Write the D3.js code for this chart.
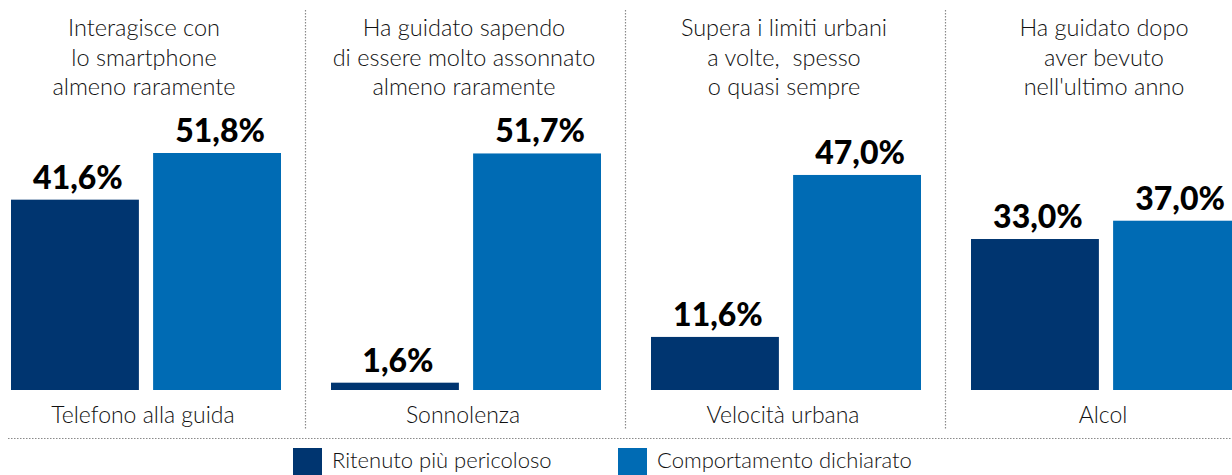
<!DOCTYPE html>
<html lang="it">
<head>
<meta charset="utf-8">
<script src="https://cdn.jsdelivr.net/npm/d3@7"></script>
<style>
  html, body { margin: 0; padding: 0; background: #fff; }
  svg { display: block; }
  .title, .cat, .legend-label { font-family: Lato, "Open Sans", sans-serif; font-weight: 300; fill: #111; white-space: pre; }
  .value { font-family: Lato, "Open Sans", sans-serif; font-weight: 900; fill: #000; }
</style>
</head>
<body>
<svg id="chart" width="1232" height="475"></svg>
<script>
// Four driving behaviours, each compared across two measures
const categories = ["Telefono alla guida", "Sonnolenza", "Velocità urbana", "Alcol"];
const titles = [
  ["Interagisce con", "lo smartphone", "almeno raramente"],
  ["Ha guidato sapendo", "di essere molto assonnato", "almeno raramente"],
  ["Supera i limiti urbani", "a volte,  spesso", "o quasi sempre"],
  ["Ha guidato dopo", "aver bevuto", "nell'ultimo anno"]
];
const seriesNames = ["Ritenuto più pericoloso", "Comportamento dichiarato"];
const ritenuto = [41.6, 1.6, 11.6, 33.0];
const dichiarato = [51.8, 51.7, 47.0, 37.0];
const colors = ["#003570", "#006bb4"];

const svg = d3.select("#chart");
const W = 1232, H = 475;
const baseline = 390;

const rows = categories.map((c, i) => ({
  cat: c, title: titles[i],
  values: [
    { s: seriesNames[0], v: ritenuto[i] },
    { s: seriesNames[1], v: dichiarato[i] }
  ]
}));

// one 320px column per behaviour
const xPanel = d3.scaleBand().domain(categories).range([0, 1280]);
const xInner = d3.scaleBand().domain(seriesNames).range([11, 281]).paddingInner(0.1);
const color = d3.scaleOrdinal().domain(seriesNames).range(colors);
const y = d3.scaleLinear().domain([0, 51.8]).range([baseline, 153]);

const fmt = v => d3.format(".1f")(v).replace(".", ",") + "%";
const center = (xInner.range()[0] + xInner.range()[1]) / 2;

// dotted separators between the columns
svg.selectAll("line.sep")
  .data(categories.slice(1))
  .join("line")
  .attr("class", "sep")
  .attr("x1", d => xPanel(d) - 14.5).attr("x2", d => xPanel(d) - 14.5)
  .attr("y1", 10).attr("y2", 430)
  .attr("stroke", "#8a8a8a").attr("stroke-width", 1.2)
  .attr("stroke-dasharray", "1.5,1.5");

svg.append("line")
  .attr("x1", 8).attr("x2", W)
  .attr("y1", 438.5).attr("y2", 438.5)
  .attr("stroke", "#8a8a8a").attr("stroke-width", 1.2)
  .attr("stroke-dasharray", "1.5,1.5");

const panel = svg.selectAll("g.panel")
  .data(rows)
  .join("g")
  .attr("class", "panel")
  .attr("transform", d => `translate(${xPanel(d.cat)},0)`);

panel.append("text")
  .attr("class", "title")
  .attr("text-anchor", "middle")
  .attr("font-size", 23.5)
  .selectAll("tspan")
  .data(d => d.title)
  .join("tspan")
  .attr("x", center - 2)
  .attr("y", (d, i) => 36 + i * 29.5)
  .text(d => d);

panel.selectAll("rect")
  .data(d => d.values)
  .join("rect")
  .attr("x", d => xInner(d.s))
  .attr("width", xInner.bandwidth())
  .attr("y", d => y(d.v))
  .attr("height", d => baseline - y(d.v))
  .attr("fill", d => color(d.s));

panel.selectAll("text.value")
  .data(d => d.values)
  .join("text")
  .attr("class", "value")
  .attr("text-anchor", "middle")
  .attr("font-size", 32)
  .attr("x", d => xInner(d.s) + xInner.bandwidth() / 2 + 3)
  .attr("y", d => y(d.v) - 11)
  .text(d => fmt(d.v));

panel.append("text")
  .attr("class", "cat")
  .attr("text-anchor", "middle")
  .attr("font-size", 23)
  .attr("x", center - 3)
  .attr("y", 423)
  .text(d => d.cat);

// legend
const legendX = [293, 618];
const legend = svg.selectAll("g.legend")
  .data(seriesNames)
  .join("g")
  .attr("class", "legend")
  .attr("transform", (d, i) => `translate(${legendX[i]},448)`);

legend.append("rect")
  .attr("width", 29).attr("height", 28)
  .attr("fill", d => color(d));

legend.append("text")
  .attr("class", "legend-label")
  .attr("x", 39).attr("y", 20)
  .attr("font-size", 22)
  .text(d => d);
</script>
</body>
</html>
